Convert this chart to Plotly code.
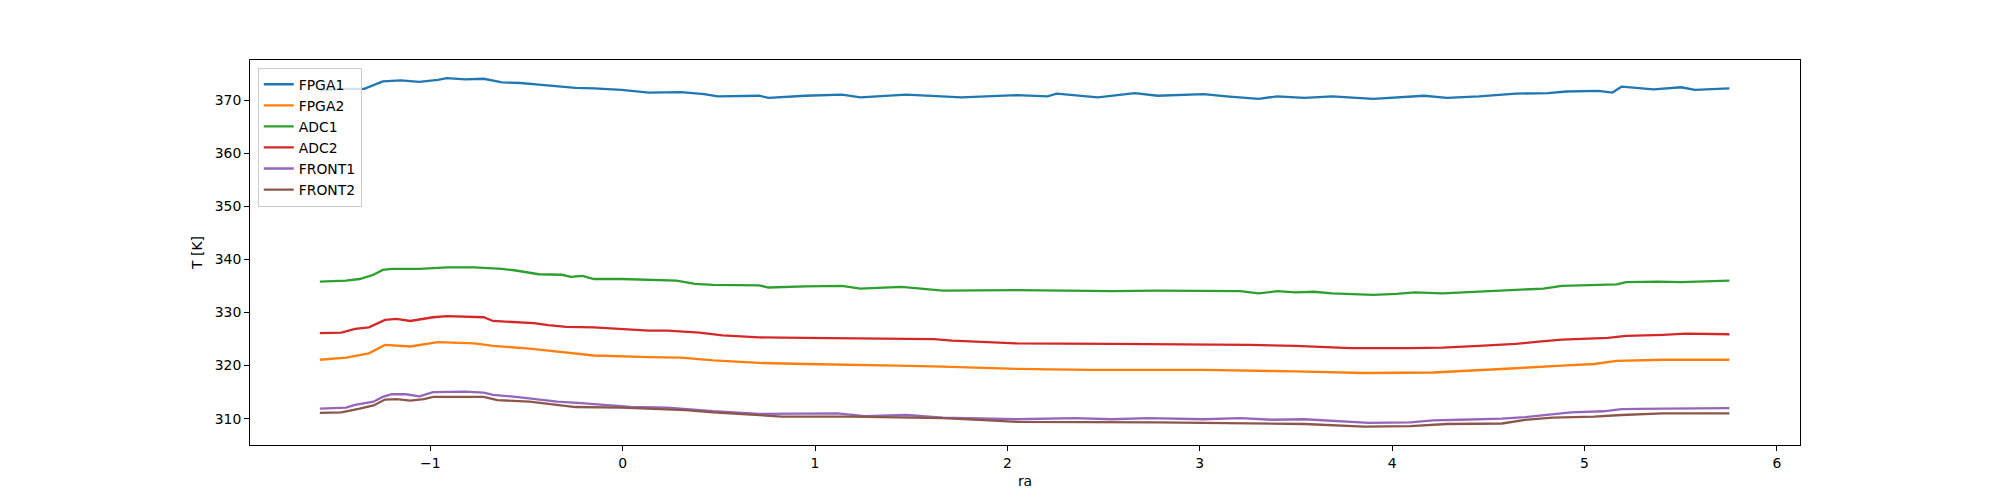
import plotly.graph_objects as go

# temperature readings vs ra
fpga1_ra = [-1.574, -1.438, -1.343, -1.247, -1.152, -1.056, -0.961, -0.913, -0.818, -0.722,
            -0.627, -0.531, -0.436, -0.340, -0.245, -0.149, -0.006, 0.137, 0.304, 0.423,
            0.495, 0.710, 0.758, 0.949, 1.140, 1.236, 1.474, 1.761, 2.048, 2.208,
            2.256, 2.471, 2.662, 2.781, 3.020, 3.139, 3.306, 3.402, 3.545, 3.688,
            3.903, 4.166, 4.285, 4.452, 4.643, 4.810, 4.906, 5.073, 5.145, 5.192,
            5.359, 5.502, 5.574, 5.753]
fpga1_t = [371.8, 372.1, 372.1, 373.5, 373.7, 373.4, 373.8, 374.1, 373.9, 374.0,
           373.3, 373.2, 372.9, 372.6, 372.3, 372.2, 371.9, 371.4, 371.5, 371.1,
           370.7, 370.8, 370.4, 370.8, 371.0, 370.5, 371.0, 370.5, 370.9, 370.7,
           371.2, 370.5, 371.3, 370.8, 371.1, 370.7, 370.2, 370.7, 370.4, 370.7,
           370.2, 370.8, 370.4, 370.7, 371.2, 371.3, 371.6, 371.7, 371.4, 372.5,
           372.0, 372.4, 371.9, 372.2]

fpga2_ra = [-1.574, -1.438, -1.319, -1.235, -1.104, -0.961, -0.770, -0.674, -0.484, -0.340,
            -0.149, 0.137, 0.304, 0.471, 0.710, 0.949, 1.187, 1.426, 1.665, 1.904,
            2.047, 2.423, 3.020, 3.497, 3.855, 4.213, 4.452, 4.643, 4.882, 5.049,
            5.168, 5.407, 5.646, 5.753]
fpga2_t = [321.1, 321.5, 322.3, 323.9, 323.6, 324.4, 324.2, 323.7, 323.2, 322.6,
           321.9, 321.6, 321.5, 321.0, 320.5, 320.3, 320.2, 320.0, 319.8, 319.5,
           319.4, 319.2, 319.2, 318.9, 318.6, 318.7, 319.1, 319.5, 320.0, 320.3,
           320.9, 321.1, 321.1, 321.1]

adc1_ra = [-1.574, -1.438, -1.367, -1.295, -1.247, -1.200, -1.056, -0.913, -0.770, -0.627,
           -0.555, -0.484, -0.436, -0.316, -0.269, -0.209, -0.149, -0.006, 0.137, 0.280,
           0.376, 0.471, 0.710, 0.758, 0.949, 1.140, 1.235, 1.450, 1.665, 2.047,
           2.304, 2.542, 2.781, 3.020, 3.211, 3.306, 3.402, 3.497, 3.593, 3.688,
           3.784, 3.903, 4.022, 4.118, 4.261, 4.380, 4.500, 4.643, 4.786, 4.882,
           5.049, 5.168, 5.216, 5.383, 5.502, 5.646, 5.753]
adc1_t = [335.8, 336.0, 336.3, 337.1, 338.0, 338.2, 338.2, 338.5, 338.5, 338.2,
          337.9, 337.4, 337.2, 337.1, 336.7, 336.9, 336.3, 336.3, 336.2, 336.0,
          335.4, 335.2, 335.1, 334.7, 334.9, 335.0, 334.5, 334.8, 334.1, 334.2,
          334.1, 334.0, 334.1, 334.1, 334.0, 333.6, 334.0, 333.8, 333.9, 333.6,
          333.5, 333.3, 333.5, 333.8, 333.6, 333.8, 334.0, 334.3, 334.5, 335.0,
          335.2, 335.3, 335.7, 335.8, 335.7, 335.8, 336.0]

adc2_ra = [-1.574, -1.462, -1.391, -1.319, -1.235, -1.176, -1.104, -0.985, -0.913, -0.722,
           -0.674, -0.555, -0.460, -0.388, -0.293, -0.149, -0.006, 0.137, 0.233, 0.400,
           0.519, 0.710, 0.949, 1.187, 1.426, 1.617, 1.713, 1.904, 2.047, 2.542,
           3.020, 3.259, 3.497, 3.617, 3.784, 4.094, 4.261, 4.452, 4.643, 4.762,
           4.882, 5.121, 5.216, 5.407, 5.526, 5.753]
adc2_t = [326.1, 326.2, 326.9, 327.2, 328.6, 328.8, 328.4, 329.1, 329.3, 329.1,
          328.4, 328.2, 328.0, 327.6, 327.3, 327.2, 326.9, 326.6, 326.6, 326.2,
          325.7, 325.3, 325.2, 325.1, 325.0, 325.0, 324.7, 324.4, 324.2, 324.1,
          324.0, 323.9, 323.7, 323.5, 323.3, 323.3, 323.4, 323.7, 324.1, 324.5,
          324.9, 325.2, 325.6, 325.8, 326.0, 325.9]

front1_ra = [-1.574, -1.438, -1.391, -1.295, -1.247, -1.200, -1.128, -1.056, -0.985, -0.818,
             -0.722, -0.674, -0.555, -0.460, -0.340, -0.197, -0.102, 0.042, 0.233, 0.376,
             0.471, 0.710, 0.949, 1.116, 1.259, 1.474, 1.665, 1.904, 2.047, 2.351,
             2.542, 2.733, 3.020, 3.211, 3.378, 3.545, 3.736, 3.879, 4.094, 4.213,
             4.357, 4.571, 4.691, 4.810, 4.929, 5.097, 5.192, 5.407, 5.753]
front1_t = [311.9, 312.1, 312.6, 313.2, 314.1, 314.6, 314.6, 314.2, 315.0, 315.1,
            314.9, 314.5, 314.1, 313.7, 313.2, 312.9, 312.6, 312.2, 312.1, 311.6,
            311.4, 310.9, 310.9, 311.0, 310.5, 310.7, 310.2, 310.1, 309.9, 310.1,
            309.9, 310.1, 309.9, 310.1, 309.8, 309.9, 309.5, 309.2, 309.3, 309.7,
            309.8, 310.0, 310.3, 310.7, 311.2, 311.4, 311.8, 311.9, 312.0]

front2_ra = [-1.574, -1.462, -1.367, -1.295, -1.235, -1.176, -1.104, -1.033, -0.985, -0.722,
             -0.651, -0.484, -0.364, -0.245, -0.006, 0.161, 0.328, 0.471, 0.710, 0.829,
             1.187, 1.426, 1.665, 1.904, 2.047, 2.781, 3.259, 3.545, 3.855, 4.094,
             4.285, 4.571, 4.691, 4.834, 5.049, 5.192, 5.407, 5.753]
front2_t = [311.1, 311.2, 311.9, 312.5, 313.6, 313.7, 313.4, 313.7, 314.1, 314.1,
            313.5, 313.2, 312.7, 312.2, 312.1, 311.9, 311.6, 311.2, 310.7, 310.4,
            310.4, 310.2, 310.1, 309.7, 309.4, 309.3, 309.2, 309.0, 308.5, 308.6,
            309.0, 309.1, 309.8, 310.2, 310.4, 310.7, 311.0, 311.0]

SERIES = [
    ("FPGA1", fpga1_ra, fpga1_t, "#1f77b4"),
    ("FPGA2", fpga2_ra, fpga2_t, "#ff7f0e"),
    ("ADC1", adc1_ra, adc1_t, "#2ca02c"),
    ("ADC2", adc2_ra, adc2_t, "#d62728"),
    ("FRONT1", front1_ra, front1_t, "#9467bd"),
    ("FRONT2", front2_ra, front2_t, "#8c564b"),
]

FONT = "DejaVu Sans"

fig = go.Figure()

for name, ra, temp, color in SERIES:
    fig.add_trace(
        go.Scatter(
            x=ra,
            y=temp,
            mode="lines",
            name=name,
            line=dict(color=color, width=2.3),
        )
    )

axis_common = dict(
    showgrid=False,
    zeroline=False,
    showline=True,
    linecolor="black",
    linewidth=1,
    mirror=True,
    ticks="outside",
    ticklen=5,
    tickwidth=1,
    tickcolor="black",
    tickfont=dict(family=FONT, size=13.9, color="black"),
)

fig.update_xaxes(
    **axis_common,
    range=[-1.937, 6.12],
    tickmode="linear",
    tick0=-1,
    dtick=1,
    title=dict(text="ra", font=dict(family=FONT, size=13.9, color="black"), standoff=6),
)
fig.update_yaxes(
    **axis_common,
    range=[305.05, 377.53],
    tickmode="linear",
    tick0=310,
    dtick=10,
    title=dict(text="T [K]", font=dict(family=FONT, size=13.9, color="black"), standoff=8),
)

# page body adds an 8px offset, margins compensate for it
fig.update_layout(
    width=2000,
    height=500,
    margin=dict(l=242, r=208, t=52, b=63),
    paper_bgcolor="white",
    plot_bgcolor="white",
    font=dict(family=FONT, size=13.9, color="black"),
    showlegend=True,
    legend=dict(
        x=0.005,
        y=0.98,
        xanchor="left",
        yanchor="top",
        bgcolor="rgba(255,255,255,0.8)",
        bordercolor="#cccccc",
        borderwidth=1,
        font=dict(family=FONT, size=13.9, color="black"),
        tracegroupgap=0,
    ),
)

fig.write_html("out.html")
